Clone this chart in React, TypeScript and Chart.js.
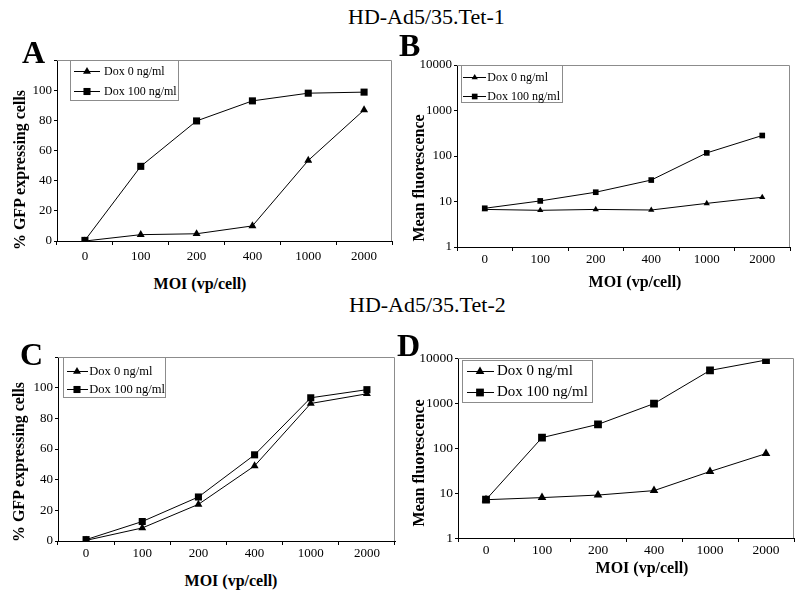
import React, { useEffect, useRef } from "react";
import { Chart, registerables } from "chart.js";

Chart.register(...registerables);

const FONT = "'Liberation Serif', 'Times New Roman', Times, serif";

// ---------- data ----------
const categories = ["0", "100", "200", "400", "1000", "2000"];
const seriesLabels = ["Dox 0 ng/ml", "Dox 100 ng/ml"];

const aDox0 = [0, 4.2, 4.8, 10, 53.4, 86.9];
const aDox100 = [0.4, 49.5, 79.6, 92.9, 98, 98.7];

const bDox0 = [6.7, 6.4, 6.7, 6.5, 9.1, 12.4];
const bDox100 = [7.1, 10.3, 16, 29.6, 117, 282];

const cDox0 = [0.4, 8.5, 23.9, 49, 89.7, 96];
const cDox100 = [0.9, 12.7, 28.7, 56.2, 93.4, 98.7];

const dDox0 = [7.1, 7.9, 9.0, 11.3, 30, 75];
const dDox100 = [7.1, 170, 335, 970, 5300, 9000];

const linearTicks = [0, 20, 40, 60, 80, 100, 120];
const linearTickLabels = ["0", "20", "40", "60", "80", "100", ""];
const logTicks = [1, 10, 100, 1000, 10000];
const logTickLabels = ["1", "10", "100", "1000", "10000"];

const figureTitles = ["HD-Ad5/35.Tet-1", "HD-Ad5/35.Tet-2"];
const xAxisTitle = "MOI (vp/cell)";
const yTitlePercent = "% GFP expressing cells";
const yTitleFluor = "Mean fluorescence";

// ---------- layout constants ----------
const Y_W = 50;
const X_H = 30;
const PAD_T = 12;
const PAD_R = 6;
const FRAME = "#8c8c8c";

function drawMarker(ctx: CanvasRenderingContext2D, style: string, x: number, y: number, r: number) {
  ctx.beginPath();
  if (style === "triangle") {
    const w = r * Math.sin((2 * Math.PI) / 3);
    ctx.moveTo(x, y - r);
    ctx.lineTo(x + w, y + r / 2);
    ctx.lineTo(x - w, y + r / 2);
    ctx.closePath();
  } else {
    const s = Math.SQRT1_2 * r;
    ctx.rect(x - s, y - s, 2 * s, 2 * s);
  }
  ctx.fillStyle = "#000";
  ctx.fill();
}

const framePlugin = {
  id: "frame",
  afterDraw(chart: any) {
    const { ctx, chartArea } = chart;
    const { left, top, right, bottom } = chartArea;
    ctx.save();
    ctx.strokeStyle = FRAME;
    ctx.lineWidth = 1;
    ctx.beginPath();
    const ty = Math.round(top) + 0.5;
    const rx = Math.round(right) - 0.5;
    ctx.moveTo(Math.round(left), ty);
    ctx.lineTo(rx, ty);
    ctx.lineTo(rx, Math.round(bottom));
    ctx.stroke();
    ctx.restore();
  },
};

const boxLegendPlugin = {
  id: "boxLegend",
  afterDraw(chart: any, _args: any, o: any) {
    if (!o || !o.w) return;
    const { ctx, chartArea } = chart;
    const L = chartArea.left;
    const T = chartArea.top;
    ctx.save();
    ctx.fillStyle = "#fff";
    ctx.fillRect(L + o.x, T + o.y, o.w, o.h);
    ctx.strokeStyle = FRAME;
    ctx.lineWidth = 1;
    ctx.strokeRect(Math.round(L + o.x) + 0.5, Math.round(T + o.y) + 0.5, o.w, o.h);
    chart.data.datasets.forEach((ds: any, i: number) => {
      const y = Math.round(T + o.rows[i]) + 0.5;
      ctx.strokeStyle = "#000";
      ctx.lineWidth = 1;
      ctx.beginPath();
      ctx.moveTo(L + o.lx0, y);
      ctx.lineTo(L + o.lx1, y);
      ctx.stroke();
      drawMarker(ctx, ds.pointStyle, L + o.mx, y, ds.pointRadius);
      ctx.fillStyle = "#000";
      ctx.font = `${o.size}px ${FONT}`;
      ctx.textBaseline = "middle";
      ctx.textAlign = "left";
      ctx.fillText(ds.label, L + o.tx, y);
    });
    ctx.restore();
  },
};

type Area = { l: number; t: number; r: number; b: number };
type PanelCfg = {
  area: Area;
  log: boolean;
  d0: number[];
  d100: number[];
  tick: number;
  xPad: number;
  tri: number;
  rect: number;
  legend: any;
};

function Panel({ cfg }: { cfg: PanelCfg }) {
  const ref = useRef<HTMLCanvasElement | null>(null);
  const { area } = cfg;
  const w = area.r - area.l + Y_W + PAD_R;
  const h = area.b - area.t + PAD_T + X_H;

  useEffect(() => {
    if (!ref.current) return;
    const tickFont = { family: FONT, size: cfg.tick };
    const yScale: any = cfg.log
      ? {
          type: "logarithmic",
          min: 1,
          max: 10000,
          afterBuildTicks: (s: any) => {
            s.ticks = logTicks.map((v) => ({ value: v }));
          },
          ticks: {
            color: "#000",
            font: tickFont,
            padding: 2,
            autoSkip: false,
            callback: (_v: any, i: number) => logTickLabels[i],
          },
        }
      : {
          type: "linear",
          min: 0,
          max: 120,
          afterBuildTicks: (s: any) => {
            s.ticks = linearTicks.map((v) => ({ value: v }));
          },
          ticks: {
            color: "#000",
            font: tickFont,
            padding: 2,
            autoSkip: false,
            callback: (_v: any, i: number) => linearTickLabels[i],
          },
        };
    yScale.grid = { drawOnChartArea: false, drawTicks: true, tickLength: 3, color: "#000", lineWidth: 1 };
    yScale.border = { display: true, color: "#000", width: 1 };
    yScale.afterFit = (s: any) => {
      s.width = Y_W;
    };

    const chart = new Chart(ref.current, {
      type: "line",
      data: {
        labels: categories,
        datasets: [
          {
            label: seriesLabels[0],
            data: cfg.d0,
            borderColor: "#000",
            backgroundColor: "#000",
            borderWidth: 1,
            pointStyle: "triangle",
            pointRadius: cfg.tri,
            pointBorderWidth: 0,
            pointBackgroundColor: "#000",
            tension: 0,
            order: 1,
          },
          {
            label: seriesLabels[1],
            data: cfg.d100,
            borderColor: "#000",
            backgroundColor: "#000",
            borderWidth: 1,
            pointStyle: "rect",
            pointRadius: cfg.rect,
            pointBorderWidth: 0,
            pointBackgroundColor: "#000",
            tension: 0,
            order: 0,
          },
        ],
      },
      options: {
        responsive: false,
        animation: false,
        devicePixelRatio: 1,
        layout: { padding: { top: PAD_T, right: PAD_R, left: 0, bottom: 0 } },
        plugins: {
          legend: { display: false },
          tooltip: { enabled: false },
          boxLegend: cfg.legend,
        } as any,
        scales: {
          x: {
            type: "category",
            offset: true,
            grid: {
              offset: true,
              drawOnChartArea: false,
              drawTicks: true,
              tickLength: 4,
              color: "#000",
              lineWidth: 1,
            },
            border: { display: true, color: "#000", width: 1 },
            ticks: {
              color: "#000",
              font: tickFont,
              padding: cfg.xPad,
              maxRotation: 0,
              autoSkip: false,
            },
            afterFit: (s: any) => {
              s.height = X_H;
            },
          } as any,
          y: yScale,
        },
      },
      plugins: [framePlugin, boxLegendPlugin],
    });
    return () => chart.destroy();
  }, []);

  return (
    <canvas
      ref={ref}
      width={w}
      height={h}
      style={{
        position: "absolute",
        left: area.l - Y_W,
        top: area.t - PAD_T,
        width: w,
        height: h,
        display: "block",
      }}
    />
  );
}

const panels: PanelCfg[] = [
  {
    area: { l: 57, t: 60, r: 392, b: 241 },
    log: false,
    d0: aDox0,
    d100: aDox100,
    tick: 13,
    xPad: 4,
    tri: 4.6,
    rect: 5,
    legend: { x: 13, y: 0, w: 108, h: 40, rows: [11, 31], lx0: 17, lx1: 43, mx: 30, tx: 47, size: 12 },
  },
  {
    area: { l: 457, t: 65, r: 790, b: 247 },
    log: true,
    d0: bDox0,
    d100: bDox100,
    tick: 13,
    xPad: 1,
    tri: 3.6,
    rect: 4,
    legend: { x: 4, y: 0, w: 101, h: 37, rows: [11.7, 30.7], lx0: 6, lx1: 29, mx: 17.7, tx: 30.3, size: 12 },
  },
  {
    area: { l: 58, t: 357, r: 395, b: 541 },
    log: false,
    d0: cDox0,
    d100: cDox100,
    tick: 13,
    xPad: 1,
    tri: 4.6,
    rect: 5,
    legend: { x: 5, y: 0, w: 102, h: 40, rows: [13.7, 32.3], lx0: 9, lx1: 30, mx: 19, tx: 31.3, size: 12.5 },
  },
  {
    area: { l: 458, t: 358, r: 794, b: 538 },
    log: true,
    d0: dDox0,
    d100: dDox100,
    tick: 13.5,
    xPad: 0,
    tri: 5,
    rect: 5.5,
    legend: { x: 4, y: 2, w: 130, h: 42, rows: [13, 33.7], lx0: 9, lx1: 36, mx: 22, tx: 39, size: 15 },
  },
];

const abs = (left: number, top: number, extra: any = {}) => ({
  position: "absolute" as const,
  left,
  top,
  whiteSpace: "nowrap" as const,
  ...extra,
});

function YTitle({ text, cx, cy }: { text: string; cx: number; cy: number }) {
  return (
    <div
      style={abs(cx, cy, {
        fontWeight: "bold",
        fontSize: 16,
        lineHeight: "16px",
        transform: "translate(-50%, -50%) rotate(-90deg)",
      })}
    >
      {text}
    </div>
  );
}

function XTitle({ text, cx, baseline }: { text: string; cx: number; baseline: number }) {
  return (
    <div
      style={abs(cx - 100, baseline - 13.4, {
        width: 200,
        textAlign: "center",
        fontWeight: "bold",
        fontSize: 16,
        lineHeight: "16px",
      })}
    >
      {text}
    </div>
  );
}

function Letter({ text, x, top }: { text: string; x: number; top: number }) {
  return (
    <div style={abs(x, top, { fontWeight: "bold", fontSize: 32, lineHeight: "32px" })}>{text}</div>
  );
}

export default function App() {
  return (
    <div
      style={{
        position: "absolute",
        left: 0,
        top: 0,
        width: 800,
        height: 594,
        background: "#fff",
        color: "#000",
        fontFamily: FONT,
        overflow: "hidden",
      }}
    >
      <div style={abs(348, 6, { fontSize: 22, lineHeight: "22px" })}>{figureTitles[0]}</div>
      <div style={abs(349, 294, { fontSize: 22, lineHeight: "22px" })}>{figureTitles[1]}</div>

      {panels.map((p, i) => (
        <Panel key={i} cfg={p} />
      ))}

      <Letter text="A" x={22} top={36.4} />
      <Letter text="B" x={399} top={29.4} />
      <Letter text="C" x={20} top={338} />
      <Letter text="D" x={397} top={329.4} />

      <YTitle text={yTitlePercent} cx={20} cy={170} />
      <YTitle text={yTitleFluor} cx={419} cy={178} />
      <YTitle text={yTitlePercent} cx={19} cy={462} />
      <YTitle text={yTitleFluor} cx={419} cy={463} />

      <XTitle text={xAxisTitle} cx={200} baseline={289} />
      <XTitle text={xAxisTitle} cx={635} baseline={287.3} />
      <XTitle text={xAxisTitle} cx={231} baseline={586} />
      <XTitle text={xAxisTitle} cx={642} baseline={573.3} />
    </div>
  );
}
